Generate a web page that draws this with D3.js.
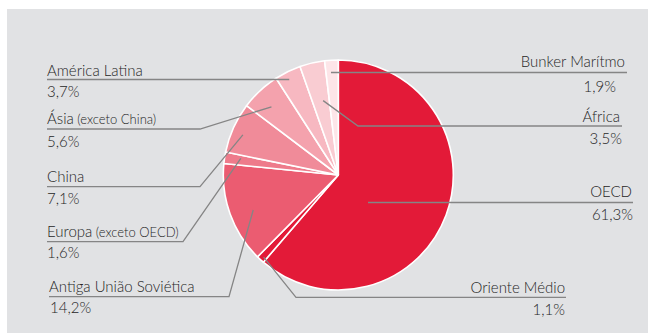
<!DOCTYPE html>
<html>
<head>
<meta charset="utf-8">
<script src="https://cdn.jsdelivr.net/npm/d3@7/dist/d3.min.js"></script>
<style>
  html, body { margin: 0; padding: 0; background: #ffffff; }
  svg { display: block; }
  text { font-family: Lato, "Open Sans", sans-serif; fill: #262626; }
</style>
</head>
<body>
<svg id="chart" width="648" height="333"></svg>
<script>
// Regions, clockwise from the top of the pie
const regions = ["OECD", "Oriente Médio", "Antiga União Soviética", "Europa", "China",
                 "Ásia", "América Latina", "África", "Bunker Marítmo"];
const qualifiers = ["", "", "", "(exceto OECD)", "", "(exceto China)", "", "", ""];
const shares = [61.3, 1.1, 14.2, 1.6, 7.1, 5.6, 3.7, 3.5, 1.9];
const shareLabels = ["61,3%", "1,1%", "14,2%", "1,6%", "7,1%", "5,6%", "3,7%", "3,5%", "1,9%"];
const fills = ["#e31a38", "#e31a38", "#eb5c71", "#ee7b8b", "#f08b99", "#f4a2ad", "#f7b8c1", "#f9ccd2", "#fde5e8"];

// Leader layout: anchor inside the slice (fraction across the slice, fraction of radius),
// elbow x, line y, label x, and text baselines.
const leaders = [
  { af: 0.60, rf: 0.35, side: "R", ly: 202.5, lx: 633, nx: 632, ny: 197, px: 633, py: 220 },
  { af: 0.40, rf: 0.965, side: "R", ex: 296, ly: 297.3, lx: 566, nx: 565, ny: 293, px: 565, py: 315 },
  { af: 0.45, rf: 0.80, side: "L", ex: 229, ly: 296.7, lx: 49, nx: 49, ny: 291.7, px: 50, py: 313 },
  { af: 0.68, rf: 0.86, side: "L", ex: 183, ly: 241.7, lx: 47, nx: 47, ny: 236.7, px: 47, py: 258 },
  { af: 0.44, rf: 0.90, side: "L", ex: 200, ly: 186.7, lx: 47, nx: 47, ny: 181.7, px: 47, py: 204 },
  { af: 0.42, rf: 0.83, side: "L", ex: 200, ly: 129, lx: 47, nx: 47, ny: 124, px: 47, py: 146.7 },
  { af: 0.41, rf: 0.93, side: "L", ly: 79.5, lx: 47, nx: 47, ny: 76, px: 47, py: 97 },
  { af: 0.63, rf: 0.66, side: "R", ex: 358, ly: 126, lx: 622, nx: 620, ny: 121.7, px: 622, py: 144 },
  { af: 0.40, rf: 0.89, side: "R", ly: 72.5, lx: 627, nx: 625, ny: 67, px: 616, py: 91.7 }
];

const svg = d3.select("#chart");

// Panel background
svg.append("rect")
  .attr("x", 7).attr("y", 9).attr("width", 641).attr("height", 324)
  .attr("fill", "#e1e2e4");

const cx = 338.3, cy = 175, R = 115;

const pie = d3.pie().sort(null).value(d => d)(shares);
const arc = d3.arc().innerRadius(0).outerRadius(R);

const g = svg.append("g").attr("transform", `translate(${cx},${cy})`);

g.selectAll("path.slice")
  .data(pie)
  .join("path")
  .attr("class", "slice")
  .attr("d", arc)
  .attr("fill", (d, i) => fills[i])
  .attr("stroke", "#ffffff")
  .attr("stroke-width", 1.6)
  .attr("stroke-linejoin", "round");

// Leader lines
const lines = svg.append("g");
pie.forEach((d, i) => {
  const L = leaders[i];
  const a = d.startAngle + (d.endAngle - d.startAngle) * L.af;
  const r = R * L.rf;
  const x0 = cx + r * Math.sin(a), y0 = cy - r * Math.cos(a);
  const pts = [[x0, y0]];
  if (L.ex !== undefined) pts.push([L.ex, L.ly]);
  else pts[0][1] = L.ly;
  pts.push([L.lx, L.ly]);
  lines.append("path")
    .attr("d", d3.line()(pts))
    .attr("fill", "none")
    .attr("stroke", "#858585")
    .attr("stroke-width", 1.3);
});

// Labels
const labels = svg.append("g");
regions.forEach((name, i) => {
  const L = leaders[i];
  const anchor = L.side === "L" ? "start" : "end";
  const t = labels.append("text")
    .attr("x", L.nx).attr("y", L.ny)
    .attr("text-anchor", anchor)
    .style("font-size", "15px")
    .style("font-weight", 300)
    .text(name);
  if (qualifiers[i]) {
    t.append("tspan").style("font-size", "13px").text(" " + qualifiers[i]);
  }
  labels.append("text")
    .attr("x", L.px).attr("y", L.py)
    .attr("text-anchor", anchor)
    .style("font-size", "15px")
    .style("font-weight", 300)
    .text(shareLabels[i]);
});
</script>
</body>
</html>
